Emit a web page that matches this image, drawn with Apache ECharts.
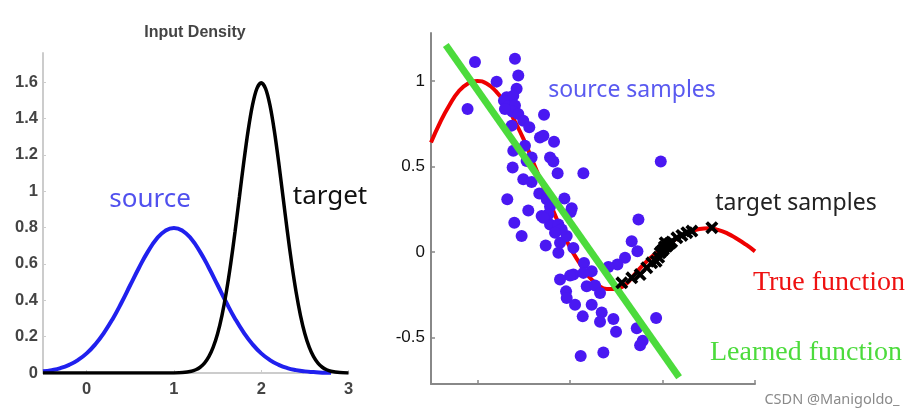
<!DOCTYPE html>
<html>
<head>
<meta charset="utf-8">
<script src="https://cdn.jsdelivr.net/npm/echarts@6/dist/echarts.min.js"></script>
<style>html,body{margin:0;padding:0;background:#fff}#c{width:919px;height:418px}</style>
</head>
<body>
<div id="c"></div>
<script>
// ---- Left panel: input densities ----
const sourceX = [-0.5,-0.4,-0.3,-0.2,-0.1,0,0.1,0.2,0.3,0.4,0.5,0.6,0.7,0.8,0.9,1.0,1.1,1.2,1.3,1.4,1.5,1.6,1.7,1.8,1.9,2.0,2.1,2.2,2.3,2.4,2.5,2.6,2.7,2.8];
const sourceY = [0.009,0.016,0.027,0.045,0.071,0.108,0.158,0.222,0.299,0.388,0.484,0.579,0.666,0.737,0.782,0.798,0.782,0.737,0.666,0.579,0.484,0.388,0.299,0.222,0.158,0.108,0.071,0.045,0.027,0.016,0.009,0.005,0.002,0.001];
const targetX = [-0.5,0,0.5,0.8,1.0,1.1,1.2,1.25,1.3,1.35,1.4,1.45,1.5,1.55,1.6,1.65,1.7,1.75,1.8,1.85,1.9,1.95,2.0,2.05,2.1,2.15,2.2,2.25,2.3,2.35,2.4,2.45,2.5,2.55,2.6,2.65,2.7,2.75,2.8,2.9,3.0];
const targetY = [0,0,0,0,0.0005,0.0024,0.0095,0.0177,0.0317,0.0543,0.0896,0.142,0.216,0.316,0.444,0.599,0.777,0.968,1.159,1.333,1.473,1.564,1.596,1.564,1.473,1.333,1.159,0.968,0.777,0.599,0.444,0.316,0.216,0.142,0.0896,0.0543,0.0317,0.0177,0.0095,0.0024,0.0005];
const leftXTicks = [0,1,2,3];
const leftYTicks = [0,0.2,0.4,0.6,0.8,1,1.2,1.4,1.6];

// ---- Right panel: regression ----
const trueX = [-0.5,-0.4,-0.3,-0.2,-0.1,0,0.1,0.2,0.3,0.4,0.5,0.6,0.7,0.8,0.9,1.0,1.1,1.2,1.3,1.4,1.5,1.6,1.7,1.8,1.9,2.0,2.1,2.2,2.3,2.4,2.5,2.6,2.7,2.8,2.9,3.0];
const trueY = [0.64,0.76,0.86,0.94,0.985,1.0,0.985,0.94,0.87,0.77,0.66,0.53,0.40,0.27,0.14,0.03,-0.06,-0.14,-0.19,-0.215,-0.215,-0.19,-0.13,-0.07,-0.02,0.02,0.06,0.095,0.12,0.135,0.14,0.13,0.11,0.08,0.045,0.005];
const srcSampleX = [-0.025,0.407,0.443,0.209,-0.105,0.425,0.317,0.389,0.288,0.335,0.407,0.378,0.443,0.299,0.721,0.497,0.562,0.371,0.677,0.714,0.829,0.515,0.389,0.786,0.822,0.587,0.533,1.982,0.382,0.868,1.146,0.497,0.587,0.670,0.324,0.750,0.941,1.020,1.009,0.551,0.695,0.786,0.786,0.876,0.400,1.741,0.479,0.739,0.894,0.966,0.876,1.038,1.668,1.730,1.596,1.514,1.416,1.153,1.236,1.038,1.002,0.894,1.146,1.182,1.272,1.326,0.959,0.966,1.056,1.236,1.139,1.344,1.326,1.470,1.499,1.723,1.932,1.787,1.759,1.117,1.362,0.912,0.840,0.768,0.714];
const srcSampleY = [1.110,1.129,1.032,0.996,0.836,0.954,0.905,0.914,0.885,0.852,0.856,0.821,0.807,0.836,0.803,0.768,0.729,0.739,0.670,0.680,0.645,0.621,0.592,0.553,0.530,0.553,0.533,0.530,0.494,0.461,0.461,0.426,0.410,0.342,0.309,0.309,0.313,0.256,0.234,0.244,0.211,0.266,0.162,0.162,0.172,0.191,0.094,0.039,0.055,0.094,-0.004,0.025,0.064,0.006,-0.033,-0.072,-0.086,-0.063,-0.111,-0.131,-0.137,-0.160,-0.121,-0.199,-0.195,-0.238,-0.229,-0.268,-0.307,-0.307,-0.375,-0.352,-0.406,-0.391,-0.465,-0.444,-0.385,-0.518,-0.543,-0.606,-0.586,0.133,0.113,0.221,0.201];
const tgtSampleX = [1.561,1.669,1.759,1.831,1.885,1.932,1.96,1.975,1.99,2.011,2.02,2.03,2.047,2.06,2.08,2.10,2.156,2.21,2.264,2.318,2.534];
const tgtSampleY = [-0.179,-0.150,-0.131,-0.091,-0.062,-0.053,-0.03,-0.004,0.005,0.016,0.03,0.055,0.035,0.045,0.05,0.06,0.084,0.098,0.114,0.123,0.143];
const learnedX = [-0.34,2.18];
const learnedY = [1.21,-0.73];
const rightXTicks = [0,1,2,3];
const rightYTicks = [-0.5,0,0.5,1];

const zip = (xs, ys) => xs.map((x, i) => [x, ys[i]]);
const crossPath = 'path://M2,0 L5,3 L8,0 L10,2 L7,5 L10,8 L8,10 L5,7 L2,10 L0,8 L3,5 L0,2 Z';

const chart = echarts.init(document.getElementById('c'), null, {renderer: 'canvas'});
const leftLbl = {fontFamily: 'Liberation Sans', fontSize: 16.5, fontWeight: 'bold', color: '#444'};
const rightLbl = {fontFamily: 'Liberation Sans', fontSize: 17, color: '#111'};

chart.setOption({
  animation: false,
  backgroundColor: '#fff',
  grid: [
    {left: 43, right: 570.5, top: 53, bottom: 45},
    {left: 431, right: 164, top: 33, bottom: 34}
  ],
  xAxis: [
    {type: 'value', gridIndex: 0, min: -0.5, max: 3,
     axisLine: {onZero: false, lineStyle: {color: '#ccc', width: 2}},
     axisTick: {show: true, inside: true, length: 3, customValues: leftXTicks, lineStyle: {color: '#ccc'}},
     axisLabel: Object.assign({customValues: leftXTicks, margin: 8}, leftLbl),
     splitLine: {show: false}},
    {type: 'value', gridIndex: 1, min: -0.5, max: 3,
     axisLine: {onZero: false, lineStyle: {color: '#888', width: 2}},
     axisTick: {show: true, inside: true, length: 4, customValues: rightXTicks, lineStyle: {color: '#888', width: 1.5}},
     axisLabel: {show: false},
     splitLine: {show: false}}
  ],
  yAxis: [
    {type: 'value', gridIndex: 0, min: 0, max: 1.76,
     axisLine: {show: true, onZero: false, lineStyle: {color: '#ccc', width: 2}},
     axisTick: {show: true, inside: true, length: 3, customValues: leftYTicks, lineStyle: {color: '#ccc'}},
     axisLabel: Object.assign({customValues: leftYTicks, margin: 5}, leftLbl),
     splitLine: {show: false}},
    {type: 'value', gridIndex: 1, min: -0.77, max: 1.28,
     axisLine: {show: true, onZero: false, lineStyle: {color: '#888', width: 2}},
     axisTick: {show: true, inside: true, length: 4, customValues: rightYTicks, lineStyle: {color: '#888', width: 1.5}},
     axisLabel: Object.assign({customValues: rightYTicks, margin: 6}, rightLbl),
     splitLine: {show: false}}
  ],
  series: [
    {type: 'line', xAxisIndex: 0, yAxisIndex: 0, data: zip(sourceX, sourceY), smooth: true, symbol: 'none',
     lineStyle: {color: '#2020ee', width: 4}, z: 2},
    {type: 'line', xAxisIndex: 0, yAxisIndex: 0, data: zip(targetX, targetY), smooth: 0.3, symbol: 'none',
     lineStyle: {color: '#000', width: 3.5}, z: 3},
    {type: 'line', xAxisIndex: 1, yAxisIndex: 1, data: zip(trueX, trueY), smooth: true, symbol: 'none',
     lineStyle: {color: '#ee0000', width: 4}, z: 2},
    {type: 'scatter', xAxisIndex: 1, yAxisIndex: 1, data: zip(srcSampleX, srcSampleY), symbol: 'circle', symbolSize: 12,
     itemStyle: {color: '#4a18f2', opacity: 1}, z: 3},
    {type: 'line', xAxisIndex: 1, yAxisIndex: 1, data: zip(learnedX, learnedY), symbol: 'none',
     lineStyle: {color: '#4cdb3c', width: 7}, z: 4},
    {type: 'scatter', xAxisIndex: 1, yAxisIndex: 1, data: zip(tgtSampleX, tgtSampleY), symbol: crossPath, symbolSize: 13,
     itemStyle: {color: '#000', opacity: 1}, z: 5}
  ],
  graphic: [
    {type: 'text', x: 195, y: 33, style: {text: 'Input Density', align: 'center', verticalAlign: 'middle', font: 'bold 16px "Liberation Sans"', fill: '#444'}},
    {type: 'text', x: 150, y: 200, style: {text: 'source', align: 'center', verticalAlign: 'middle', font: '26px "Noto Sans"', fill: '#5050ee'}},
    {type: 'text', x: 330, y: 197, style: {text: 'target', align: 'center', verticalAlign: 'middle', font: '26px "Noto Sans"', fill: '#111'}},
    {type: 'text', x: 632, y: 90, style: {text: 'source samples', align: 'center', verticalAlign: 'middle', font: '23px "Noto Sans"', fill: '#5a5af0'}},
    {type: 'text', x: 796, y: 203, style: {text: 'target samples', align: 'center', verticalAlign: 'middle', font: '23px "Noto Sans"', fill: '#222'}},
    {type: 'text', x: 829, y: 283, style: {text: 'True function', align: 'center', verticalAlign: 'middle', font: '28px "Liberation Serif"', fill: '#ee1111'}},
    {type: 'text', x: 806, y: 353, style: {text: 'Learned function', align: 'center', verticalAlign: 'middle', font: '28px "Liberation Serif"', fill: '#4cdb3c'}},
    {type: 'text', x: 832, y: 400, style: {text: 'CSDN @Manigoldo_', align: 'center', verticalAlign: 'middle', font: '14.5px "Noto Sans"', fill: '#8a8a8a'}}
  ]
});
</script>
</body>
</html>
